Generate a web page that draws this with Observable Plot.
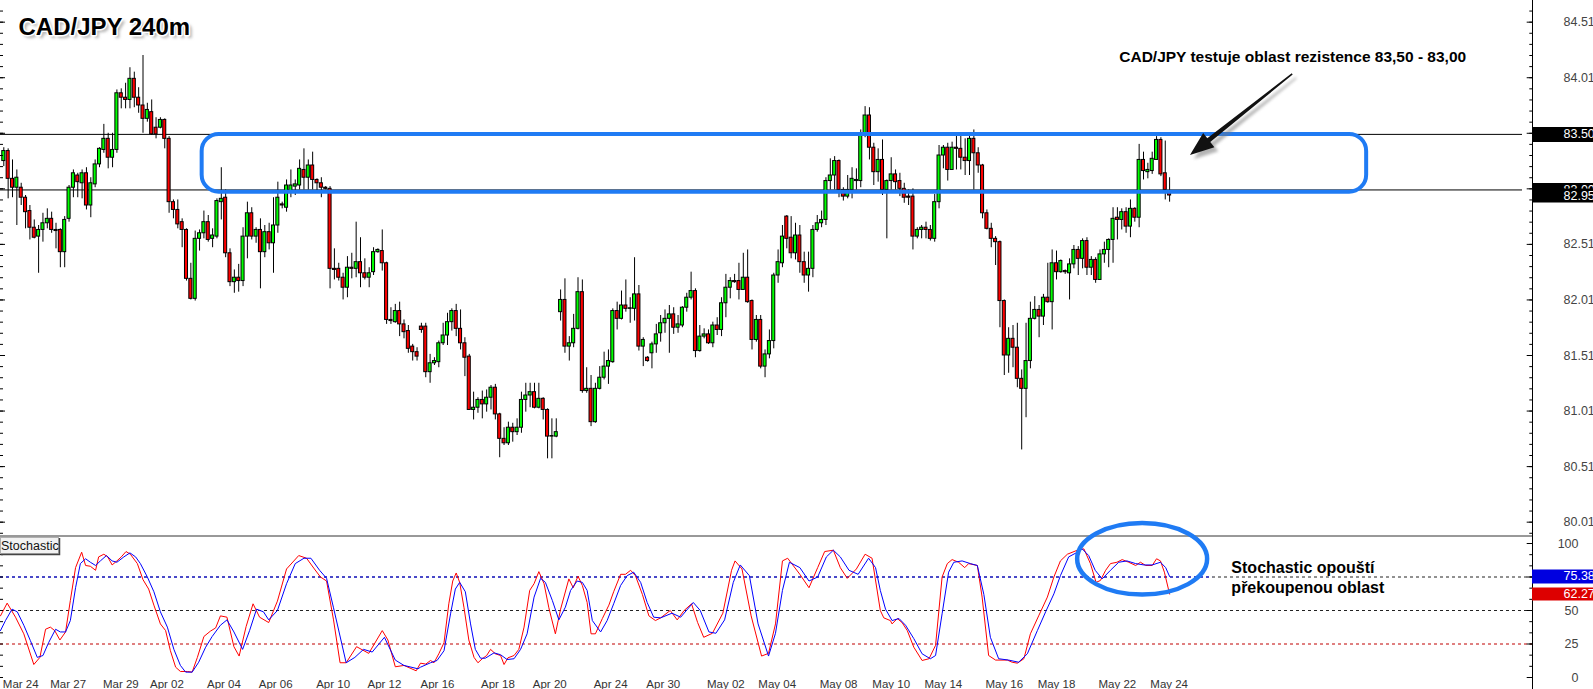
<!DOCTYPE html>
<html><head><meta charset="utf-8">
<script src="https://cdn.jsdelivr.net/npm/d3@7"></script>
<script src="https://cdn.jsdelivr.net/npm/@observablehq/plot@0.6"></script>
<style>
html,body{margin:0;padding:0;background:#fff;}
#wrap{position:relative;width:1593px;height:689px;overflow:hidden;background:#fff;}
#wrap svg{display:block;}
</style></head><body><div id="wrap"></div>
<script>
// ---------- DATA ----------
const opens = [83.26,83.35,83.10,83.02,83.02,82.93,82.81,82.66,82.58,82.64,82.70,82.74,82.64,82.64,82.44,82.74,83.02,83.13,83.06,83.15,82.86,83.05,83.23,83.36,83.46,83.29,83.36,83.87,83.83,83.81,84.00,83.83,83.76,83.64,83.70,83.56,83.56,83.63,83.46,82.89,82.82,82.71,82.64,82.20,82.02,82.56,82.61,82.71,82.56,82.58,82.89,82.93,82.43,82.17,82.21,82.18,82.58,82.79,82.58,82.64,82.44,82.62,82.52,82.68,82.87,82.84,82.98,83.03,83.04,83.18,83.11,83.22,83.09,83.06,83.02,83.01,82.29,82.29,82.21,82.12,82.30,82.29,82.35,82.25,82.21,82.26,82.44,82.45,82.34,81.83,81.81,81.91,81.79,81.73,81.59,81.54,81.77,81.77,81.36,81.44,81.45,81.62,81.69,81.81,81.91,81.75,81.62,81.50,81.02,81.04,81.11,81.07,81.13,81.22,80.98,80.76,80.72,80.86,80.82,80.86,81.11,81.15,81.18,81.04,81.12,81.02,80.78,80.78,81.90,82.01,81.59,81.62,81.75,82.08,81.19,81.21,80.91,81.21,81.31,81.41,81.45,81.91,81.84,81.96,81.93,81.93,82.06,81.59,81.49,81.53,81.61,81.71,81.80,81.84,81.88,81.76,81.78,81.94,82.03,82.09,81.55,81.68,81.70,81.62,81.78,81.74,81.98,82.12,82.18,82.18,82.10,82.21,82.00,81.65,81.83,81.41,81.52,81.64,82.23,82.34,82.76,82.57,82.43,82.59,82.35,82.23,82.29,82.64,82.70,82.73,83.08,83.13,83.26,83.00,82.94,83.00,83.08,83.08,83.51,83.67,83.38,83.16,83.27,83.00,83.08,83.14,83.08,83.01,82.94,82.94,82.58,82.64,82.66,82.64,82.56,82.89,83.31,83.38,83.18,83.38,83.37,83.29,83.26,83.46,83.33,83.22,82.79,82.65,82.56,82.53,82.00,81.51,81.66,81.58,81.30,81.21,81.46,81.84,81.92,81.86,82.03,81.99,82.34,82.26,82.27,82.25,82.33,82.46,82.38,82.54,82.30,82.37,82.19,82.42,82.46,82.55,82.75,82.73,82.80,82.67,82.83,82.75,83.27,83.16,83.17,83.27,83.45,83.15,82.99];
const highs = [83.38,83.37,83.27,83.18,83.06,82.95,82.86,82.73,82.68,82.79,82.83,82.80,82.70,82.65,82.76,83.04,83.18,83.15,83.18,83.20,83.11,83.27,83.38,83.59,83.51,83.51,83.90,83.91,83.96,84.10,84.06,83.92,84.21,83.78,83.81,83.65,83.65,83.64,83.48,82.91,82.91,82.74,82.65,82.34,82.63,82.64,82.81,82.77,82.65,82.92,83.20,83.00,82.47,82.28,82.33,82.66,82.89,82.84,82.66,82.74,82.68,82.70,82.93,83.07,82.89,83.09,83.18,83.09,83.27,83.37,83.27,83.34,83.10,83.11,83.03,83.03,82.47,82.34,82.25,82.40,82.43,82.71,82.57,82.38,82.30,82.48,82.47,82.64,82.35,81.94,81.97,81.99,81.83,81.78,81.61,81.58,81.80,81.80,81.52,81.49,81.64,81.80,81.89,81.93,81.97,81.92,81.67,81.52,81.18,81.13,81.19,81.20,81.24,81.25,80.99,80.86,80.91,80.90,80.94,81.18,81.26,81.26,81.26,81.26,81.13,81.03,80.94,80.94,82.10,82.20,81.68,81.88,82.21,82.19,81.40,81.33,81.26,81.41,81.54,81.56,81.93,81.99,82.09,82.19,82.03,82.39,82.14,81.67,81.50,81.63,81.79,81.87,81.92,81.96,81.94,81.87,81.95,82.07,82.26,82.11,81.78,81.75,81.74,81.81,81.85,82.03,82.24,82.21,82.24,82.34,82.43,82.46,82.01,81.87,81.87,81.56,81.74,82.25,82.46,82.68,82.77,82.76,82.70,82.68,82.44,82.44,82.68,82.77,82.81,83.11,83.28,83.30,83.27,83.02,83.13,83.20,83.19,83.54,83.75,83.74,83.42,83.37,83.45,83.09,83.29,83.18,83.15,83.06,83.00,83.01,82.66,82.68,82.71,82.68,82.96,83.40,83.40,83.42,83.43,83.49,83.49,83.46,83.49,83.54,83.38,83.23,82.82,82.70,82.58,82.54,82.01,81.76,81.78,81.80,81.38,81.80,81.99,82.04,81.96,82.06,82.34,82.46,82.45,82.37,82.28,82.38,82.50,82.49,82.56,82.57,82.40,82.39,82.46,82.53,82.56,82.84,82.84,82.83,82.84,82.91,82.84,83.41,83.34,83.24,83.34,83.48,83.47,83.44,83.11];
const lows = [83.21,82.92,82.93,82.68,82.86,82.65,82.55,82.56,82.25,82.53,82.65,82.61,82.47,82.30,82.30,82.71,82.93,82.93,82.92,82.82,82.75,83.02,83.20,83.33,83.19,83.20,83.33,83.73,83.73,83.73,83.74,83.69,83.51,83.61,83.49,83.46,83.55,83.37,82.79,82.74,82.65,82.48,82.18,82.01,82.00,82.45,82.56,82.53,82.48,82.56,82.73,82.39,82.13,82.07,82.08,82.13,82.38,82.55,82.52,82.11,82.39,82.46,82.25,82.61,82.83,82.80,82.93,82.95,83.00,83.00,83.00,83.00,82.98,82.93,83.00,82.11,82.19,82.18,82.01,82.03,82.20,82.21,82.12,82.19,82.12,82.23,82.43,82.27,81.79,81.79,81.80,81.68,81.66,81.53,81.46,81.46,81.71,81.31,81.26,81.42,81.40,81.60,81.60,81.73,81.68,81.56,81.32,81.02,80.93,80.99,80.94,81.00,81.02,80.93,80.59,80.70,80.70,80.73,80.79,80.81,81.00,81.04,81.03,81.03,80.93,80.58,80.58,80.77,81.82,81.53,81.46,81.58,81.74,81.17,81.17,80.87,80.90,81.20,81.29,81.25,81.44,81.74,81.83,81.90,81.80,81.82,81.55,81.41,81.45,81.39,81.53,81.63,81.71,81.53,81.70,81.71,81.76,81.90,82.01,81.49,81.54,81.66,81.61,81.58,81.69,81.68,81.85,82.02,82.16,82.01,82.10,81.98,81.56,81.63,81.39,81.31,81.48,81.57,82.16,82.30,82.47,82.38,82.37,82.25,82.16,82.08,82.21,82.62,82.66,82.68,83.00,83.00,82.93,82.90,82.92,82.92,83.00,83.02,83.47,83.27,83.04,83.07,82.95,82.56,83.00,83.00,82.94,82.88,82.86,82.46,82.56,82.56,82.56,82.54,82.53,82.83,83.19,83.08,83.18,83.18,83.18,83.13,83.13,83.00,83.15,82.74,82.64,82.48,82.32,81.76,81.33,81.35,81.40,81.22,80.66,80.95,81.39,81.83,81.67,81.78,81.98,81.74,82.19,82.25,82.24,82.01,82.29,82.23,82.29,82.23,82.23,82.16,82.19,82.34,82.30,82.34,82.55,82.64,82.61,82.57,82.71,82.66,83.09,83.10,83.14,83.27,83.12,82.91,82.89];
const closes = [83.35,83.10,83.02,83.11,82.93,82.80,82.66,82.57,82.64,82.70,82.74,82.64,82.63,82.44,82.73,83.02,83.15,83.07,83.15,82.86,83.06,83.23,83.37,83.46,83.29,83.36,83.87,83.83,83.81,84.00,83.83,83.76,83.64,83.72,83.50,83.50,83.63,83.46,82.89,82.82,82.69,82.64,82.20,82.02,82.56,82.61,82.71,82.55,82.59,82.90,82.92,82.43,82.17,82.21,82.18,82.58,82.79,82.58,82.64,82.44,82.62,82.52,82.68,82.93,82.86,83.04,83.04,83.05,83.19,83.11,83.22,83.09,83.06,83.02,83.01,82.29,82.28,82.21,82.12,82.30,82.29,82.35,82.25,82.21,82.25,82.44,82.46,82.34,81.83,81.82,81.91,81.79,81.72,81.57,81.54,81.50,81.74,81.36,81.44,81.46,81.62,81.69,81.81,81.91,81.75,81.62,81.49,81.02,81.04,81.11,81.07,81.13,81.22,80.98,80.76,80.72,80.86,80.82,80.86,81.11,81.15,81.18,81.04,81.12,81.02,80.78,80.785,80.82,82.01,81.59,81.62,81.75,82.08,81.19,81.21,80.91,81.21,81.31,81.41,81.46,81.91,81.84,81.96,81.93,81.935,82.06,81.59,81.65,81.46,81.61,81.70,81.80,81.84,81.88,81.76,81.79,81.94,82.03,82.09,81.55,81.68,81.70,81.62,81.78,81.74,81.98,82.12,82.18,82.17,82.10,82.21,81.99,81.65,81.83,81.41,81.52,81.64,82.23,82.35,82.58,82.56,82.43,82.59,82.35,82.23,82.29,82.64,82.70,82.73,83.08,83.13,83.26,83.00,82.94,83.00,83.10,83.09,83.51,83.67,83.38,83.16,83.27,83.00,83.08,83.14,83.07,83.01,82.93,82.93,82.58,82.64,82.66,82.64,82.56,82.89,83.31,83.38,83.18,83.38,83.37,83.29,83.26,83.46,83.33,83.22,82.79,82.65,82.56,82.53,82.00,81.51,81.66,81.58,81.30,81.21,81.46,81.84,81.92,81.86,82.03,81.99,82.34,82.26,82.36,82.26,82.33,82.46,82.38,82.54,82.30,82.37,82.19,82.42,82.46,82.55,82.74,82.73,82.80,82.67,82.83,82.75,83.27,83.17,83.18,83.28,83.45,83.14,83.00,82.95];

// Stochastic: bar index and value read at points along each line (red = %K, blue = %D)
const kIdx = [-0.76,0.77,2.69,4.6,6.9,8.3,9.6,10.7,11.7,12.9,14.2,15.3,16.5,17.9,18.8,19.9,21.1,21.8,23,23.9,24.9,26,27,28.1,29.1,30.7,32,33.3,34.5,36,37.2,38.3,39.5,40.6,42.2,43.3,44.5,46,47.5,48.7,49.8,51.3,52.9,54.1,55.7,57.3,58.8,60.9,62.9,65,67.8,69.6,71.4,72.8,74.2,75.8,77.3,78.7,81.1,83.9,87,88.3,90,92,94.8,95.8,97,98.1,98.9,100,101.2,102.3,103.2,104,104.8,105.8,106.9,108.1,109,110,111,111.9,113,114.2,115,115.9,117.3,118.4,119.6,120.9,121.9,123,124.2,125.3,126.8,128,129.9,130.9,132,133,134.1,135,136,137.6,139.1,140.2,141.8,142.9,144.1,145.2,146.8,148.3,149.8,151,153.2,154.8,156.4,158.1,159.5,160.9,162.9,165.3,167.3,168.1,169.7,171.8,174.2,175.8,177.4,179,180.2,183,185.1,187.1,188.7,190.7,192.3,193.9,196,198,199.6,201.5,202.3,203.8,204.2,205.4,206.5,207.7,209.2,211.1,212.7,214.2,215.7,216.9,218,219.5,220.9,221.8,223.8,224.9,226.4,228,230.7,231.8,233,234.5,236,237.9,239.9,241.4,242.9,244.5,246.8,248.3,249.8,251.1,252.1,253.3,254.4,255.9,257.1,258.6,260.2,261.3,262.5,264,265,265.9,266.8,268];
const kVal = [46,55.5,45,32.6,9.7,15,36,37.6,35,28,34,57.5,82,93.5,83.6,83,80,90,92,90,84,87,90,94,92,85,73,66,54,40,35,20,7.7,4.5,4.5,4,15,30.6,34.6,37,46,45,23,16,38,55,45,41,57,81,91,89,81,75,72,43,11,11,23,18,35,28,8,9,5,10.7,10,12.7,11,17.7,26,55,72,78,71,52,28,15,11,14,16.4,21,17.7,16.4,9.7,14.7,16.4,21,37.6,65,70,79,70,52,32.6,51,73.6,67,75.6,68.7,56,32.6,32.6,44,54,64,77,77,80,76,62,46,42.5,44.5,50,43,50,55,41,30,33,48,80,87,81,46,16,18,40,87,89,77,67,82,94,95,82,74,81,92,89,50,44.5,42.5,40,44,41,35,22.6,12.7,14,24,75,85,88,86,82,85,83.6,60,16.4,13,13,11.4,10.7,14,32.6,46,60,75,87,92,95,96,85,71,72.4,80,85,86,88,86,83.6,86,83.6,83.6,88.6,87,78.6,62.27];
const dIdx = [-0.76,0.39,1.9,3.1,4.6,6.1,7.7,9,10.3,11.9,13,14.2,15.3,16.5,17.6,18.8,19.9,21.1,22.2,23.6,24.9,26,27.6,29,30.3,31.4,33,34.5,36,37.6,39.1,40.6,41.8,43.3,44.8,46.4,47.9,49.8,51.3,52.9,54.9,56.5,58.1,59.7,60.9,62.9,65,67,69,70.6,72.6,74.2,75.8,78.7,80.7,82.7,84.7,87.5,90,92,95.2,95.8,98.1,99.6,101.2,102.7,103.8,104.8,106.1,107.3,108.4,109.6,110.7,112.7,114.2,115.7,117.3,118.8,120.3,121.9,123.4,124.5,126.1,127.6,129.1,130.3,131.8,133,134.1,135.3,137.2,138.7,140.2,141.8,143.3,144.8,146.4,147.9,149.4,151,153.6,155.6,158.5,160.1,162.1,163.7,165.7,167.7,169.3,171.4,173.4,175.8,177.4,179,180.6,183,185.1,187.1,189.1,190.7,192.3,194.3,196.4,198.8,200.4,201.5,202.7,204.2,205.8,207.3,209.2,211.1,213,214.2,215.7,217.2,218.4,220.3,222.2,223.8,225.3,226.8,228.7,231,233.3,235.3,237.6,239.5,241.4,242.9,244.8,246.8,247.9,249.4,250.9,252.5,254.4,256.3,258.2,260.2,262.1,264,265.9,267.1,268];
const dVal = [35,42.5,51,49,39,27.6,15,16.4,26,36,34,34,42.5,67,85,88.6,86,83.6,87,91,87,86,90,93,90,85,75,64,49,37.6,21,9,4,4,11.4,22.6,30.6,39,43,34,21,35,51,49,43,50,70,85,89,89,80,74,52,11,15,21,19,30,13,9,6.5,7.7,11,12.7,20,47.5,66,71,64,40,21,14.4,14.4,18.4,17,13.4,14,21,32.6,60,74,71,57.5,43,52.5,65,72,71,65,42.5,34,42.5,55,68.7,76,78.6,71,56,45,44.5,48,45,56,50,34,33,43,71,84,76,40,16,33,65,86,82,72,75,90,95,90,80,77,89,82,65,51,42.5,44,39,29,17.7,14,16.4,47.5,78.6,86,87,85,83.6,62,30,14,13,11.4,17.7,35,49,62.4,76,90,93.5,96,91,80,73.6,80,86,87,85,84,84,86,82,75.38];

// Axis ticks and date labels
const priceMajor = [80.01,80.51,81.01,81.51,82.01,82.51,83.01,83.51,84.01,84.51];
const stochMajor = [0,25,50,75,100];
const stochLabels = [0,25,50,100];
const dateIdx = [3.9,14.8,26.9,37.5,50.6,62.5,75.7,87.5,99.7,113.6,125.5,139.5,151.6,166.0,177.8,191.9,204.0,216.0,230.0,242.0,256.0,267.9];
const dateLabels = ["Mar 24","Mar 27","Mar 29","Apr 02","Apr 04","Apr 06","Apr 10","Apr 12","Apr 16","Apr 18","Apr 20","Apr 24","Apr 30","May 02","May 04","May 08","May 10","May 14","May 16","May 18","May 22","May 24"];

// Horizontal levels, zone, current prices / values, annotations
const levels = [83.50, 83.00];
const zone = {i1: 45.6, i2: 313.3, top: 83.50, bottom: 82.98};
const lastPrice = 82.95;
const stochLast = {d: 75.38, k: 62.27};
const stochLevels = {blue: 75, black: [75, 50], red: 25, blueEndIdx: 277.9};
const title = "CAD/JPY 240m";
const note1 = {text: "CAD/JPY testuje oblast rezistence 83,50 - 83,00", i: 296.3, p: 84.20};
const arrow = {i1: 296.3, p1: 84.04, i2: 272.8, p2: 83.31};
const note2 = {text: "Stochastic opouští\npřekoupenou oblast", i: 282.2, v: 75.4};
const ellipse = {i: 261.8, v: 88.2, rxBars: 14.94, ryVal: 26.7};

// ---------- LAYOUT ----------
const W = 1593, H1 = 535, H2 = 154, axisPx = 1532, step = 4.35, first = 3.3;
const xMin = -first / step, xMax = (axisPx - first) / step, xFar = (W - first) / step;
const bars = px => px / step;
const pTop = 84.705, pBot = 79.89;
const sPx = 1.34, sTop = 100 + 8 / sPx, sBot = -12 / sPx;
const FONT = "Liberation Sans, Arial, sans-serif";
const blueAnn = "#1f7bf4";

const candles = opens.map((o, i) => ({i, o, h: highs[i], l: lows[i], c: closes[i]}));
const kPts = kIdx.map((x, j) => ({x, v: kVal[j]}));
const dPts = dIdx.map((x, j) => ({x, v: dVal[j]}));
const priceMinor = d3.range(7991, 8470, 10).map(v => v / 100);
const stochMinor = d3.range(0, 13).map(j => j * 25 / 3);

const price = Plot.plot({
  width: W, height: H1, marginLeft: 0, marginRight: W - axisPx, marginTop: 0, marginBottom: 0,
  x: {domain: [xMin, xMax], axis: null},
  y: {domain: [pBot, pTop], axis: null},
  color: {type: "identity"},
  style: {background: "white", overflow: "hidden"},
  marks: [
    Plot.ruleY(levels, {x1: xMin, x2: xMax - bars(10), stroke: "black", strokeWidth: 1}),
    Plot.ruleX(candles, {x: "i", y1: "l", y2: "h", stroke: "black", strokeWidth: 1}),
    Plot.rect(candles, {x1: d => d.i - 0.35, x2: d => d.i + 0.35, y1: "o",
      y2: d => Math.abs(d.c - d.o) < 0.004 ? d.o - 0.004 : d.c,
      fill: d => d.c >= d.o ? "#00ff00" : "#ff0000", stroke: "black", strokeWidth: 1}),
    Plot.rect([zone], {x1: "i1", x2: "i2", y1: "top", y2: "bottom", rx: 17, ry: 17, fill: "none", stroke: blueAnn, strokeWidth: 4}),
    // right axis
    Plot.ruleX([xMax], {y1: pBot, y2: pTop, stroke: "black", strokeWidth: 1}),
    Plot.ruleY(priceMinor, {x1: xMax - bars(2.7), x2: xMax, stroke: "black"}),
    Plot.ruleY(priceMajor, {x1: xMax - bars(5.3), x2: xMax, stroke: "black"}),
    Plot.ruleY(priceMinor, {x1: xMin, x2: xMin + bars(3), stroke: "black"}),
    Plot.ruleY(priceMajor, {x1: xMin, x2: xMin + bars(5), stroke: "black"}),
    Plot.text(priceMajor, {x: xMax, y: d => d, text: d => d.toFixed(2), dx: 31, textAnchor: "start", fill: "#444", fontSize: 12.5, fontFamily: FONT}),
    Plot.ruleY([levels[0]], {x1: xMax, x2: xFar, stroke: "black", strokeWidth: 15}),
    Plot.text([levels[0]], {x: xMax, y: d => d, text: d => d.toFixed(2), dx: 31, textAnchor: "start", fill: "white", fontSize: 12.5, fontFamily: FONT}),
    Plot.ruleY([levels[1]], {x1: xMax, x2: xFar, stroke: "black", strokeWidth: 14}),
    Plot.text([levels[1]], {x: xMax, y: d => d, text: d => d.toFixed(2), dx: 31, textAnchor: "start", fill: "white", fontSize: 12.5, fontFamily: FONT}),
    Plot.ruleY([lastPrice], {x1: xMax, x2: xFar, stroke: "black", strokeWidth: 14}),
    Plot.text([lastPrice], {x: xMax, y: d => d, text: d => d.toFixed(2), dx: 31, textAnchor: "start", fill: "white", fontSize: 12.5, fontFamily: FONT}),
    // title
    Plot.text([title], {frameAnchor: "top-left", dx: 21, dy: 30, textAnchor: "start", lineAnchor: "middle", fontSize: 24, fontWeight: "bold", fontFamily: FONT, fill: "#9a9a9a", fillOpacity: 0.8}),
    Plot.text([title], {frameAnchor: "top-left", dx: 18, dy: 27, textAnchor: "start", lineAnchor: "middle", fontSize: 24, fontWeight: "bold", fontFamily: FONT, fill: "black", stroke: "white", strokeWidth: 3, paintOrder: "stroke"}),
    Plot.text([note1], {x: "i", y: "p", text: "text", textAnchor: "middle", lineAnchor: "middle", fontSize: 15.5, fontWeight: "bold", fontFamily: FONT, fill: "black"})
  ]
});

const stoch = Plot.plot({
  width: W, height: H2, marginLeft: 0, marginRight: W - axisPx, marginTop: 0, marginBottom: 0,
  x: {domain: [xMin, xMax], axis: null},
  y: {domain: [sBot, sTop], axis: null},
  style: {background: "white", overflow: "visible"},
  marks: [
    Plot.ruleY([sTop - 0.5 / sPx], {x1: xMin, x2: xMax, stroke: "#333", strokeWidth: 1}),
    Plot.ruleY(stochLevels.black, {x1: xMin, x2: xMax, stroke: "#222", strokeDasharray: "3,3"}),
    Plot.ruleY([stochLevels.blue], {x1: xMin, x2: stochLevels.blueEndIdx, stroke: "#0000ff", strokeDasharray: "3,3"}),
    Plot.ruleY([stochLevels.red], {x1: xMin, x2: xMax, stroke: "#c00000", strokeDasharray: "3,3"}),
    Plot.line(kPts, {x: "x", y: "v", stroke: "#ff0000", strokeWidth: 1}),
    Plot.line(dPts, {x: "x", y: "v", stroke: "#0000ff", strokeWidth: 1}),
    Plot.ruleX([xMax], {y1: sBot, y2: sTop, stroke: "black", strokeWidth: 1}),
    Plot.ruleY(stochMinor, {x1: xMax - bars(2.7), x2: xMax, stroke: "black"}),
    Plot.ruleY(stochMajor, {x1: xMax - bars(5.3), x2: xMax, stroke: "black"}),
    Plot.ruleY(stochMinor, {x1: xMin, x2: xMin + bars(3), stroke: "black"}),
    Plot.text(stochLabels, {x: xMax, y: d => d, text: d => String(d), dx: 46, textAnchor: "end", fill: "#444", fontSize: 12.5, fontFamily: FONT}),
    Plot.ruleY([stochLast.d], {x1: xMax, x2: xFar, stroke: "#0000e0", strokeWidth: 14}),
    Plot.text([stochLast.d], {x: xMax, y: d => d, text: d => d.toFixed(2), dx: 31, textAnchor: "start", fill: "white", fontSize: 12.5, fontFamily: FONT}),
    Plot.ruleY([stochLast.k], {x1: xMax, x2: xFar, stroke: "#dd0000", strokeWidth: 13}),
    Plot.text([stochLast.k], {x: xMax, y: d => d, text: d => d.toFixed(2), dx: 31, textAnchor: "start", fill: "white", fontSize: 12.5, fontFamily: FONT}),
    Plot.text(dateIdx, {x: d => d, text: (d, j) => dateLabels[j], frameAnchor: "bottom", dy: -5, lineAnchor: "middle", textAnchor: "middle", fill: "#333", fontSize: 11.5, fontFamily: FONT}),
    Plot.text([note2], {x: "i", y: "v", text: "text", textAnchor: "start", lineAnchor: "middle", lineHeight: 1.27, fontSize: 16, fontWeight: "bold", fontFamily: FONT, fill: "black"})
  ]
});

const wrap = document.getElementById("wrap");
wrap.append(price, stoch);

// ---------- annotations through the plots' own scales ----------
function scaleOf(chart, name) {
  const s = chart.scale(name);
  return s.apply ? (v => s.apply(v)) : d3.scaleLinear(s.domain, s.range);
}
const px = scaleOf(price, "x"), py = scaleOf(price, "y");
const sx = scaleOf(stoch, "x"), sy = scaleOf(stoch, "y");

const ps = d3.select(price);
const defs = ps.append("defs");
defs.append("filter").attr("id", "soft").attr("x", "-20%").attr("y", "-20%").attr("width", "140%").attr("height", "140%")
  .append("feGaussianBlur").attr("stdDeviation", 1.6);
ps.selectAll("g").filter(function () { return this.getAttribute("fill") === "#9a9a9a"; }).attr("filter", "url(#soft)");

// arrow
const T = [px(arrow.i1), py(arrow.p1)], Hh = [px(arrow.i2), py(arrow.p2)];
const len = Math.hypot(Hh[0] - T[0], Hh[1] - T[1]);
const u = [(Hh[0] - T[0]) / len, (Hh[1] - T[1]) / len], n = [-u[1], u[0]];
const headL = 24, headW = 9;
const B = [Hh[0] - u[0] * headL, Hh[1] - u[1] * headL];
const pt = (p, k) => [p[0] + n[0] * k, p[1] + n[1] * k];
const poly = [pt(T, 0.8), pt(B, 2.4), pt(B, headW), Hh, pt(B, -headW), pt(B, -2.4), pt(T, -0.8)];
const pathStr = "M" + poly.map(p => p.join(",")).join("L") + "Z";
ps.append("path").attr("d", pathStr).attr("fill", "#777").attr("opacity", 0.55).attr("transform", "translate(4,4)").attr("filter", "url(#soft)");
ps.append("path").attr("d", pathStr).attr("fill", "#111");

// stochastic panel decorations
const ss = d3.select(stoch);
const lbl = ss.append("g");
lbl.append("rect").attr("x", 0.5).attr("y", 2.5).attr("width", 58).attr("height", 16).attr("fill", "#f2f2f2").attr("stroke", "#b0b0b0");
lbl.append("path").attr("d", "M59.5,3V19.5H1").attr("stroke", "#444").attr("stroke-width", 1.5).attr("fill", "none");
lbl.append("text").attr("x", 1).attr("y", 15).attr("text-anchor", "start").attr("font-family", FONT).attr("font-size", 12.5).attr("fill", "#111").text("Stochastic");

const cx = sx(ellipse.i), cy = sy(ellipse.v);
const rx = Math.abs(sx(ellipse.i + ellipse.rxBars) - cx), ry = Math.abs(sy(ellipse.v + ellipse.ryVal) - cy);
ss.append("ellipse").attr("cx", cx).attr("cy", cy).attr("rx", rx).attr("ry", ry)
  .attr("fill", "none").attr("stroke", blueAnn).attr("stroke-width", 4.5);
</script>
</body></html>
